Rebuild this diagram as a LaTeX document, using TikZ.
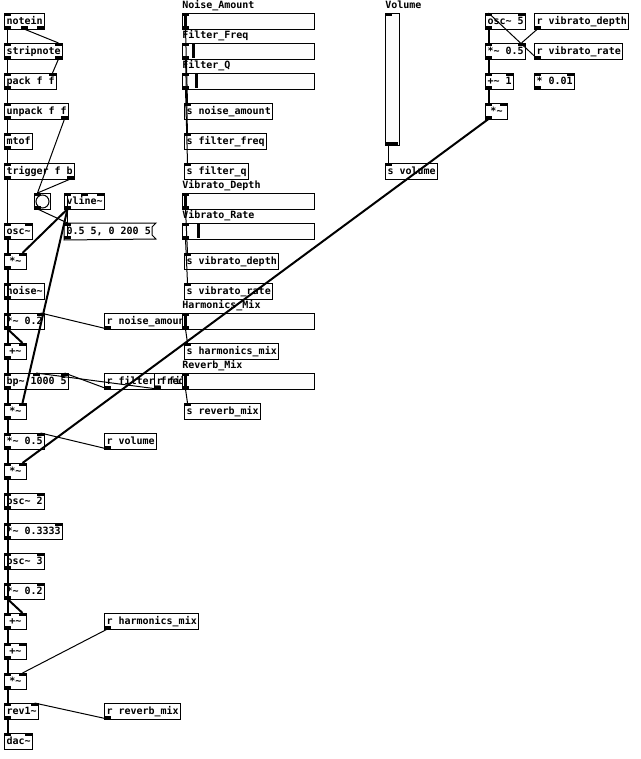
\documentclass[tikz,border=0pt]{standalone}
\usepackage{fontspec}
\newfontfamily\pdmono{DejaVu Sans Mono}
\newcommand\pdfont{\pdmono\bfseries\fontsize{7.5}{9}\selectfont}
\newcommand\ptilde{\textasciitilde}
\definecolor{pdgrey}{HTML}{FCFCFC}
\tikzset{
  pdbox/.style={draw, line width=0.75pt, anchor=north west, inner xsep=1.5pt, inner ysep=0pt,
    minimum height=12pt, font=\pdfont, text height=5.6pt, text depth=1.4pt},
  pdtext/.style={pdbox, draw=none},
  pdlabel/.style={anchor=west, inner sep=0pt, font=\pdfont},
  pdslider/.style={draw, line width=0.75pt, fill=pdgrey, anchor=north west, inner sep=0pt,
    minimum width=99pt, minimum height=12pt},
  pdbang/.style={draw, line width=0.75pt, fill=pdgrey, anchor=north west, inner sep=0pt, minimum size=12pt},
  sig/.style={line width=1.5pt},
  ctl/.style={line width=0.75pt}
}
% ports: name, x, edge y, width, count, i/o
\newcommand\pdports[6]{%
  \ifnum#5>0
    \foreach \k in {1,...,#5}{%
      \ifnum#5=1 \def\pdpx{#2}\else\pgfmathsetmacro\pdpx{#2+(\k-1)*(#4-7)/(#5-1)}\fi
      \if#6i\fill (\pdpx,#3) rectangle ++(7,3);\coordinate (#1-i\k) at (\pdpx+3.5,#3);%
      \else\fill (\pdpx,#3) rectangle ++(7,-3);\coordinate (#1-o\k) at (\pdpx+3.5,#3);\fi
    }%
  \fi}
% object box: name, x, y, width, text, inlets, outlets
\newcommand\pdobj[7]{%
  \pgfmathsetmacro\pdw{#4*0.75}%
  \node[pdbox, minimum width=\pdw pt] (#1) at (#2,#3) {#5};
  \pdports{#1}{#2}{#3}{#4}{#6}{i}%
  \pdports{#1}{#2}{#3+16}{#4}{#7}{o}}
% horizontal slider: name, x, y, knob offset, label
\newcommand\pdhsl[5]{%
  \node[pdlabel] (#1-lbl) at (#2,#3-7) {#5};
  \node[pdslider] (#1) at (#2,#3) {};
  \fill (#2+#4,#3+1) rectangle ++(3,14);
  \pdports{#1}{#2}{#3}{132}{1}{i}%
  \pdports{#1}{#2}{#3+16}{132}{1}{o}}
\begin{document}
\begin{tikzpicture}[x=0.75pt,y=-0.75pt]
\useasboundingbox (0,0) rectangle (640,759);

% voice chain
\pdobj{notein}{4}{13}{40}{notein}{1}{3}
\pdobj{strip}{4}{43}{58}{stripnote}{2}{2}
\pdobj{pack}{4}{73}{52}{pack f f}{2}{1}
\pdobj{unpack}{4}{103}{64}{unpack f f}{1}{2}
\pdobj{mtof}{4}{133}{28}{mtof}{1}{1}
\pdobj{trig}{4}{163}{70}{trigger f b}{1}{2}
\node[pdbang] (bang) at (34,193) {};
\draw[line width=0.75pt] (bang.center) circle (6.5);
\pdports{bang}{34}{193}{16}{1}{i}
\pdports{bang}{34}{209}{16}{1}{o}
\pdobj{vline}{64}{193}{40}{vline\ptilde}{3}{1}
\node[pdtext, minimum width=66pt] (msg) at (64,223) {0.5 5, 0 200 5};
\draw[line width=0.75pt] (msg.north west) -- ++(92,0) -- ++(-4,4) -- ++(0,8) -- ++(4,4) -- (msg.south west) -- cycle;
\pdports{msg}{64}{223}{88}{1}{i}
\pdports{msg}{64}{239}{88}{1}{o}
\pdobj{osc1}{4}{223}{28}{osc\ptilde}{2}{1}
\pdobj{mul1}{4}{253}{22}{*\ptilde}{2}{1}
\pdobj{noise}{4}{283}{40}{noise\ptilde}{1}{1}
\pdobj{mul2}{4}{313}{40}{*\ptilde{} 0.2}{2}{1}
\pdobj{add1}{4}{343}{22}{+\ptilde}{2}{1}
\pdobj{bp}{4}{373}{64}{bp\ptilde{} 1000 5}{3}{1}
\pdobj{mul3}{4}{403}{22}{*\ptilde}{2}{1}
\pdobj{mul4}{4}{433}{40}{*\ptilde{} 0.5}{2}{1}
\pdobj{mul5}{4}{463}{22}{*\ptilde}{2}{1}
\pdobj{osc2}{4}{493}{40}{osc\ptilde{} 2}{2}{1}
\pdobj{mul6}{4}{523}{58}{*\ptilde{} 0.3333}{2}{1}
\pdobj{osc3}{4}{553}{40}{osc\ptilde{} 3}{2}{1}
\pdobj{mul7}{4}{583}{40}{*\ptilde{} 0.2}{2}{1}
\pdobj{add2}{4}{613}{22}{+\ptilde}{2}{1}
\pdobj{add3}{4}{643}{22}{+\ptilde}{2}{1}
\pdobj{mul8}{4}{673}{22}{*\ptilde}{2}{1}
\pdobj{rev}{4}{703}{34}{rev1\ptilde}{2}{1}
\pdobj{dac}{4}{733}{28}{dac\ptilde}{2}{0}

% receives
\pdobj{rnoise}{104}{313}{88}{r noise\_amount}{0}{1}
\pdobj{rfreq}{104}{373}{82}{r filter\_freq}{0}{1}
\pdobj{rq}{154}{373}{64}{r filter\_q}{0}{1}
\pdobj{rvol}{104}{433}{52}{r volume}{0}{1}
\pdobj{rharm}{104}{613}{94}{r harmonics\_mix}{0}{1}
\pdobj{rrev}{104}{703}{76}{r reverb\_mix}{0}{1}

% controls
\pdhsl{slna}{182}{13}{2}{Noise\_Amount}
\pdhsl{slff}{182}{43}{10}{Filter\_Freq}
\pdhsl{slfq}{182}{73}{13}{Filter\_Q}
\pdobj{sna}{184}{103}{88}{s noise\_amount}{1}{0}
\pdobj{sff}{184}{133}{82}{s filter\_freq}{1}{0}
\pdobj{sfq}{184}{163}{64}{s filter\_q}{1}{0}
\pdhsl{slvd}{182}{193}{2}{Vibrato\_Depth}
\pdhsl{slvr}{182}{223}{15}{Vibrato\_Rate}
\pdobj{svd}{184}{253}{94}{s vibrato\_depth}{1}{0}
\pdobj{svr}{184}{283}{88}{s vibrato\_rate}{1}{0}
\pdhsl{slhm}{182}{313}{2}{Harmonics\_Mix}
\pdobj{shm}{184}{343}{94}{s harmonics\_mix}{1}{0}
\pdhsl{slrm}{182}{373}{2}{Reverb\_Mix}
\pdobj{srm}{184}{403}{76}{s reverb\_mix}{1}{0}

\node[pdlabel] (vol-lbl) at (385,5) {Volume};
\node[pdslider, minimum width=10.5pt, minimum height=99pt] (vol) at (385,13) {};
\fill (386,142) rectangle (398,145);
\pdports{vol}{385}{13}{14}{1}{i}
\pdports{vol}{385}{145}{14}{1}{o}
\pdobj{svol}{385}{163}{52}{s volume}{1}{0}

% vibrato
\pdobj{vosc}{485}{13}{40}{osc\ptilde{} 5}{2}{1}
\pdobj{rvd}{534}{13}{94}{r vibrato\_depth}{0}{1}
\pdobj{vmul}{485}{43}{40}{*\ptilde{} 0.5}{2}{1}
\pdobj{rvr}{534}{43}{88}{r vibrato\_rate}{0}{1}
\pdobj{vadd}{485}{73}{28}{+\ptilde{} 1}{2}{1}
\pdobj{vscale}{534}{73}{40}{* 0.01}{2}{1}
\pdobj{vmul2}{485}{103}{22}{*\ptilde}{2}{1}

% connections
\draw[ctl] (notein-o1) -- (strip-i1);
\draw[ctl] (notein-o2) -- (strip-i2);
\draw[ctl] (strip-o1) -- (pack-i1);
\draw[ctl] (strip-o2) -- (pack-i2);
\draw[ctl] (pack-o1) -- (unpack-i1);
\draw[ctl] (unpack-o1) -- (mtof-i1);
\draw[ctl] (unpack-o2) -- (bang-i1);
\draw[ctl] (mtof-o1) -- (trig-i1);
\draw[ctl] (trig-o1) -- (osc1-i1);
\draw[ctl] (trig-o2) -- (bang-i1);
\draw[ctl] (bang-o1) -- (msg-i1);
\draw[ctl] (msg-o1) -- (vline-i1);
\draw[sig] (osc1-o1) -- (mul1-i1);
\draw[sig] (vline-o1) -- (mul1-i2);
\draw[sig] (mul1-o1) -- (add1-i1);
\draw[sig] (noise-o1) -- (mul2-i1);
\draw[sig] (mul2-o1) -- (add1-i2);
\draw[sig] (add1-o1) -- (bp-i1);
\draw[sig] (bp-o1) -- (mul3-i1);
\draw[sig] (vline-o1) -- (mul3-i2);
\draw[sig] (mul3-o1) -- (mul4-i1);
\draw[sig] (mul4-o1) -- (mul5-i1);
\draw[sig] (mul5-o1) -- (add2-i1);
\draw[sig] (osc2-o1) -- (mul6-i1);
\draw[sig] (osc3-o1) -- (mul7-i1);
\draw[sig] (mul7-o1) -- (add2-i2);
\draw[sig] (add2-o1) -- (add3-i1);
\draw[sig] (add3-o1) -- (mul8-i1);
\draw[sig] (mul8-o1) -- (rev-i1);
\draw[sig] (rev-o1) -- (dac-i1);
\draw[ctl] (rnoise-o1) -- (mul2-i2);
\draw[ctl] (rq-o1) -- (bp-i2);
\draw[ctl] (rfreq-o1) -- (bp-i3);
\draw[ctl] (rvol-o1) -- (mul4-i2);
\draw[ctl] (rharm-o1) -- (mul8-i2);
\draw[ctl] (rrev-o1) -- (rev-i2);
\draw[ctl] (slna-o1) -- (sna-i1);
\draw[ctl] (slff-o1) -- (sff-i1);
\draw[ctl] (slfq-o1) -- (sfq-i1);
\draw[ctl] (slvd-o1) -- (svd-i1);
\draw[ctl] (slvr-o1) -- (svr-i1);
\draw[ctl] (slhm-o1) -- (shm-i1);
\draw[ctl] (slrm-o1) -- (srm-i1);
\draw[ctl] (vol-o1) -- (svol-i1);
\draw[sig] (vosc-o1) -- (vmul-i1);
\draw[sig] (vmul-o1) -- (vadd-i1);
\draw[sig] (vadd-o1) -- (vmul2-i1);
\draw[ctl] (rvd-o1) -- (vmul-i2);
\draw[ctl] (rvr-o1) -- (vosc-i1);
\draw[sig] (vmul2-o1) -- (mul5-i2);
\end{tikzpicture}
\end{document}
